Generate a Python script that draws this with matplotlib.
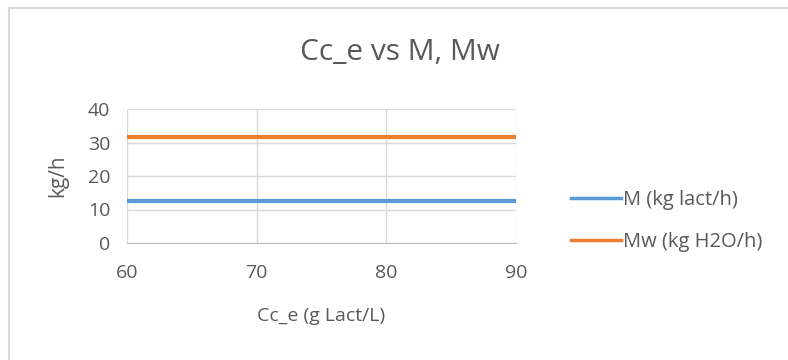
import matplotlib.pyplot as plt
from matplotlib.patches import Rectangle
from matplotlib.lines import Line2D

# Concentration range and flows
cc_e = [60, 90]
m_lact = [12.6, 12.6]
m_water = [31.6, 31.6]
labels = ['M (kg lact/h)', 'Mw (kg H2O/h)']
colors = ['#5b9bd5', '#ed7d31']
x_ticks = [60, 70, 80, 90]
y_ticks = [0, 10, 20, 30, 40]

plt.rcParams['font.family'] = ['Open Sans', 'DejaVu Sans']
txt = '#595959'
grid = '#d9d9d9'

fig = plt.figure(figsize=(7.88, 3.6), dpi=100)
fig.patches.append(Rectangle((9 / 788, -0.1), 1.0, 1 - 8 / 360 + 0.1,
                             transform=fig.transFigure, fill=False,
                             edgecolor='#d9d9d9', linewidth=1.5))

ax = fig.add_axes([127 / 788, 1 - 243 / 360, 389 / 788, 134 / 360])
ax.plot(cc_e, m_lact, color=colors[0], linewidth=3)
ax.plot(cc_e, m_water, color=colors[1], linewidth=3)

ax.set_xlim(60, 90)
ax.set_ylim(0, 40)
ax.set_xticks(x_ticks)
ax.set_yticks(y_ticks)
ax.grid(True, color=grid, linewidth=1)
ax.set_axisbelow(True)
for side in ['left', 'right', 'top']:
    ax.spines[side].set_visible(False)
ax.spines['bottom'].set_color('#bfbfbf')
ax.tick_params(length=0, colors=txt, labelsize=14)
ax.tick_params(axis='x', pad=15)
ax.tick_params(axis='y', pad=12)

ax.set_xlabel('Cc_e (g Lact/L)', color=txt, fontsize=14, labelpad=18)
ax.set_ylabel('kg/h', color=txt, fontsize=15, labelpad=14)

fig.text(0.507, 1 - 53 / 360, 'Cc_e vs M, Mw', ha='center', va='center',
         color=txt, fontsize=21.5)

handles = [Line2D([], [], color=c, linewidth=2.5) for c in colors]
fig.legend(handles, labels, loc='center left',
           bbox_to_anchor=(553 / 788, 1 - 221 / 360),
           frameon=False, handlelength=2.5, handletextpad=0.1,
           labelspacing=1.1, fontsize=14.5, labelcolor=txt)

fig.savefig('out.png', dpi=100, facecolor='white')
